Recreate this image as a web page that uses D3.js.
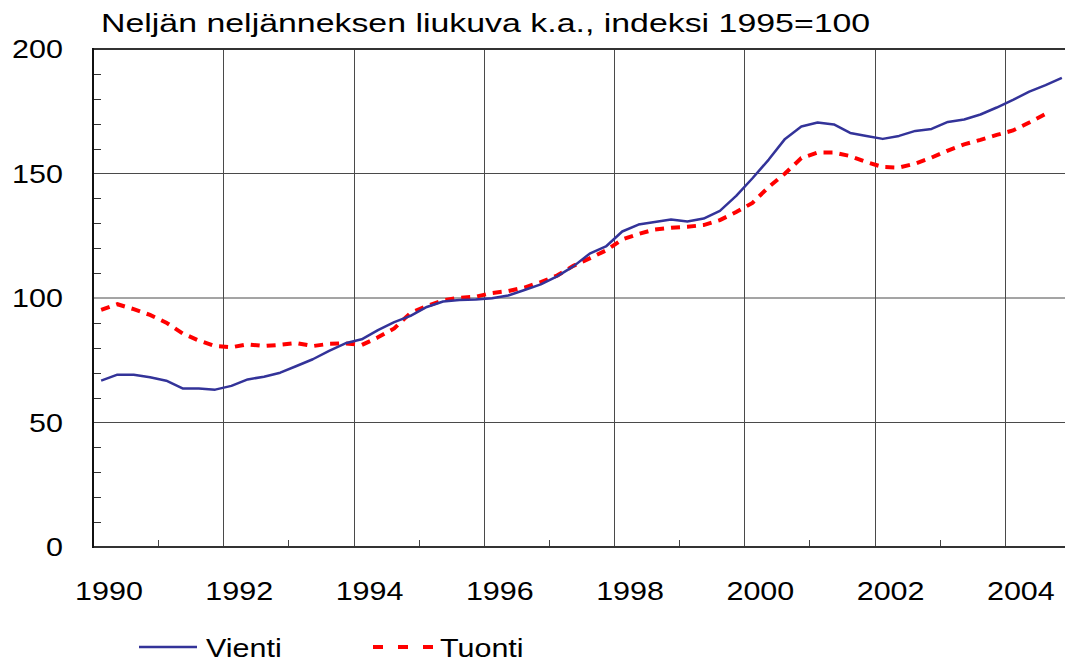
<!DOCTYPE html>
<html>
<head>
    <meta charset="UTF-8">
    <script src="https://d3js.org/d3.v7.min.js"></script>
    <style>
        body { margin: 0; background: #fff; }
        text { font-family: "Liberation Sans", Arial, sans-serif; fill: #000; }
    </style>
</head>
<body>
    <svg id="chart"></svg>

    <script>
    // DATA (quarterly, 1990Q1 ..)
    var years = [1990, 1991, 1992, 1993, 1994, 1995, 1996, 1997,
                 1998, 1999, 2000, 2001, 2002, 2003, 2004];
    var yearLabels = ["1990", "1992", "1994", "1996", "1998", "2000", "2002", "2004"];
    var yTicks = [0, 50, 100, 150, 200];

    var vienti = [
        66.8, 69.2, 69.2, 68.2,
        66.8, 63.7, 63.7, 63.2,
        64.7, 67.3, 68.4, 70.0,
        72.7, 75.4, 78.8, 81.8,
        83.4, 87.1, 90.3, 92.8,
        96.4, 98.6, 99.2, 99.4,
        99.9, 101.0, 103.2, 105.5,
        108.7, 112.7, 117.8, 120.7,
        126.7, 129.5, 130.5, 131.5,
        130.7, 131.9, 135.0, 141.0,
        148.1, 155.6, 163.9, 168.9,
        170.5, 169.7, 166.3, 165.1,
        163.9, 165.1, 167.1, 167.9,
        170.7, 171.7, 173.7, 176.5,
        179.6, 182.9, 185.5, 188.4
    ];
    var tuonti = [
        95.2, 97.5, 95.5, 93.2,
        90.1, 85.8, 82.9, 80.7,
        80.2, 81.4, 80.7, 81.2,
        81.9, 80.7, 81.6, 81.8,
        81.1, 84.2, 87.8, 94.0,
        96.8, 99.1, 100.1, 100.5,
        102.0, 102.8, 104.2, 106.4,
        109.0, 112.9, 115.9, 119.1,
        123.5, 125.7, 127.5, 128.2,
        128.6, 129.3, 131.3, 134.5,
        138.2, 144.6, 150.0, 156.2,
        158.4, 158.4, 157.0, 154.6,
        152.6, 152.4, 154.0, 156.4,
        159.2, 161.7, 163.5, 165.5,
        167.3, 170.5, 173.9, null
    ];

    var width = 1065,
        height = 664,
        fs = 25,        // font size
        sx = 1.22;      // text is drawn a bit wider than normal

    var svg = d3.select("#chart")
                .attr("width", width)
                .attr("height", height);

    var x = d3.scaleLinear()
                .domain([1990, 2005])
                .range([93, 1070]);
    var y = d3.scaleLinear()
                .domain([0, 200])
                .range([547, 49]);

    function label(txt, px, py, anchor, stretch) {
        return svg.append("text")
            .attr("transform", `translate(${px},${py}) scale(${stretch || sx},1)`)
            .attr("text-anchor", anchor || "start")
            .style("font-size", fs + "px")
            .text(txt);
    }

    // quarter centre as a decimal year
    function qx(i) { return years[0] + (i + 0.5) / 4; }

// GRID
    var g = svg.append("g");

    g.selectAll(".hgrid")
        .data([50, 100, 150])
        .enter().append("line")
            .attr("x1", x(1990)).attr("x2", width)
            .attr("y1", d => y(d)).attr("y2", d => y(d))
            .attr("stroke", "#4a4a4a")
            .attr("stroke-width", 1);

    g.selectAll(".vgrid")
        .data(yearLabels.slice(1).map(Number))
        .enter().append("line")
            .attr("x1", d => Math.round(x(d)) + 0.5).attr("x2", d => Math.round(x(d)) + 0.5)
            .attr("y1", y(200)).attr("y2", y(0))
            .attr("stroke", "#4a4a4a")
            .attr("stroke-width", 1);

    // minor ticks on y axis (every 10)
    g.selectAll(".ytick")
        .data(d3.range(10, 200, 10).filter(d => d % 50 != 0))
        .enter().append("line")
            .attr("x1", x(1990)).attr("x2", x(1990) + 8)
            .attr("y1", d => Math.round(y(d)) + 0.5).attr("y2", d => Math.round(y(d)) + 0.5)
            .attr("stroke", "#333")
            .attr("stroke-width", 1);

    // minor ticks on x axis (odd years)
    g.selectAll(".xtick")
        .data(years.filter(d => d % 2 == 1))
        .enter().append("line")
            .attr("x1", d => Math.round(x(d)) + 0.5).attr("x2", d => Math.round(x(d)) + 0.5)
            .attr("y1", y(0)).attr("y2", y(0) - 7)
            .attr("stroke", "#444")
            .attr("stroke-width", 1);

    // frame: top, left, bottom
    g.append("line")
        .attr("x1", x(1990)).attr("x2", width)
        .attr("y1", y(200)).attr("y2", y(200))
        .attr("stroke", "#333").attr("stroke-width", 2);
    g.append("line")
        .attr("x1", x(1990)).attr("x2", width)
        .attr("y1", y(0)).attr("y2", y(0))
        .attr("stroke", "#333").attr("stroke-width", 2);
    g.append("line")
        .attr("x1", x(1990)).attr("x2", x(1990))
        .attr("y1", y(200) - 1).attr("y2", y(0) + 1)
        .attr("stroke", "#111").attr("stroke-width", 2);

// LINES
    var line = d3.line()
        .defined(d => d != null)
        .x((d, i) => x(qx(i)))
        .y(d => y(d));

    svg.append("path")
        .attr("d", line(tuonti))
        .attr("fill", "none")
        .attr("stroke", "#ff0000")
        .attr("stroke-width", 4)
        .attr("stroke-dasharray", "9,7");

    svg.append("path")
        .attr("d", line(vienti))
        .attr("fill", "none")
        .attr("stroke", "#333399")
        .attr("stroke-width", 2.5)
        .attr("stroke-linejoin", "round");

// LABELS
    yTicks.forEach(d => label(d, 63, y(d) + 9, "end"));
    yearLabels.forEach(d => label(d, x(+d) + 16, 600, "middle"));

    label("Neljän neljänneksen liukuva k.a., indeksi 1995=100", 101, 32, "start", 1.355);

// LEGEND
    svg.append("line")
        .attr("x1", 139).attr("x2", 197)
        .attr("y1", 647).attr("y2", 647)
        .attr("stroke", "#333399").attr("stroke-width", 2.5);
    label("Vienti", 206, 657);

    svg.append("line")
        .attr("x1", 373).attr("x2", 433)
        .attr("y1", 647).attr("y2", 647)
        .attr("stroke", "#ff0000").attr("stroke-width", 4)
        .attr("stroke-dasharray", "10,15");
    label("Tuonti", 440, 657);
    </script>
</body>
</html>
